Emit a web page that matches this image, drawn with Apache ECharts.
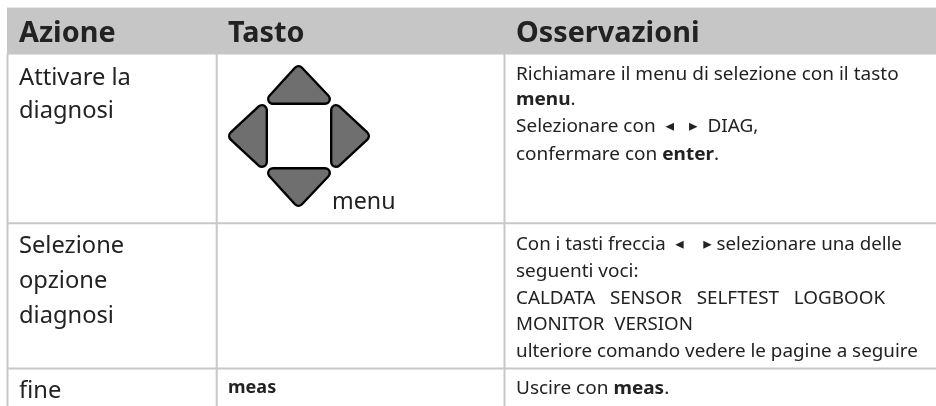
<!DOCTYPE html>
<html><head><meta charset="utf-8">
<style>html,body{margin:0;padding:0;background:#fff}#c{width:936px;height:406px}</style>
<script src="https://cdn.jsdelivr.net/npm/echarts@6/dist/echarts.min.js"></script>
</head><body><div id="c"></div>
<script>
// ---- content ----
const headers = ['Azione', 'Tasto', 'Osservazioni'];
const actionLines = ['Attivare la', 'diagnosi', 'Selezione', 'opzione', 'diagnosi', 'fine'];
const keyLabels = ['menu', 'meas'];
const noteLines = [
  'Richiamare il menu di selezione con il tasto',
  '{b|menu}.',
  'Selezionare con  {a|\u25C2}   {a|\u25B8}  DIAG,',
  'confermare con {b|enter}.',
  'Con i tasti freccia  {a|\u25C2}    {a|\u25B8} selezionare una delle',
  'seguenti voci:',
  'CALDATA   SENSOR   SELFTEST   LOGBOOK',
  'MONITOR  VERSION',
  'ulteriore comando vedere le pagine a seguire',
  'Uscire con {b|meas}.'
];
// ---- layout ----
const W = 936, H = 406;
const FONT = '"Noto Sans"';
const INK = '#222221', RULE = '#c8c8c8', HEAD = '#c6c6c6';
const colX = [7.5, 216.7, 504.5];
const rowY = [223.3, 368.5];
const textX = [19, 228, 516];
const headerBase = 43.7;
const actionBase = [87, 120, 255, 290, 325, 400];
const keyPos = [[332, 211], [228, 394.5]];
const noteBase = [81, 106, 133, 161, 251, 278, 305, 331, 358, 395];
const noteScale = [1.055, 1.055, 1.055, 1.055, 1.04, 1.055, 1.048, 1.04, 1.047, 1.055];
const keyTriangles = [
  [[298.5, 71], [273, 99], [325, 99]],
  [[298.5, 201], [273, 173], [325, 173]],
  [[234, 136], [262, 110], [262, 162]],
  [[364, 136], [336, 110], [336, 162]]
];
const CORNER = 6, BORDER = 2.4;

const marks = [];
marks.push({k: 'rect', x0: colX[0] - 0.5, y0: 8, x1: W, y1: 54.5, fill: HEAD});
marks.push({k: 'rect', x0: colX[0] - 0.5, y0: 7, x1: W, y1: 8, fill: '#e6e6e6'});
colX.forEach(x => marks.push({k: 'rect', x0: x - 1, y0: 54, x1: x + 1, y1: H, fill: RULE}));
rowY.forEach(y => marks.push({k: 'rect', x0: colX[0], y0: y - 1, x1: W, y1: y + 1, fill: RULE}));
keyTriangles.forEach(t => {
  marks.push({k: 'tri', pts: t, w: CORNER * 2, c: '#000'});
  marks.push({k: 'tri', pts: t, w: CORNER * 2 - BORDER * 2, c: '#6f6f6f'});
});
headers.forEach((s, i) => marks.push({k: 'text', s, x: textX[i], b: headerBase, size: 28.5, weight: 700, sx: 1.01}));
actionLines.forEach((s, i) => marks.push({k: 'text', s, x: textX[0], b: actionBase[i], size: 23, sx: 1.03}));
keyLabels.forEach((s, i) => marks.push({k: 'text', s, x: keyPos[i][0], b: keyPos[i][1], size: i ? 17.5 : 23, weight: i ? 700 : 400, sx: i ? 1.03 : 1.01}));
noteLines.forEach((s, i) => marks.push({k: 'text', s, x: textX[2], b: noteBase[i], size: 18, sx: noteScale[i]}));

function renderMark(params, api) {
  const m = marks[params.dataIndex];
  if (m.k === 'rect') {
    const a = api.coord([m.x0, m.y0]), b = api.coord([m.x1, m.y1]);
    return {type: 'rect', shape: {x: a[0], y: a[1], width: b[0] - a[0], height: b[1] - a[1]},
            style: {fill: m.fill}};
  }
  if (m.k === 'tri') {
    return {type: 'polygon', shape: {points: m.pts.map(p => api.coord(p))},
            style: {fill: m.c, stroke: m.c, lineWidth: m.w, lineJoin: 'round'}};
  }
  const p = api.coord([m.x, m.b]);
  const w = m.weight || 400;
  return {type: 'text', x: p[0], y: p[1] - m.size * 0.36, scaleX: m.sx,
    style: {x: 0, y: 0, text: m.s, fill: INK, fontFamily: FONT, fontSize: m.size, fontWeight: w,
      align: 'left', verticalAlign: 'middle',
      rich: {
        b: {fontFamily: FONT, fontSize: m.size, fontWeight: 700, fill: INK},
        a: {fontFamily: '"DejaVu Sans"', fontSize: m.size * 0.9, fill: INK}
      }}};
}

const chart = echarts.init(document.getElementById('c'), null, {renderer: 'canvas'});
chart.setOption({
  animation: false,
  backgroundColor: '#fff',
  grid: {left: 0, right: 0, top: 0, bottom: 0},
  xAxis: {type: 'value', min: 0, max: W, show: false},
  yAxis: {type: 'value', min: 0, max: H, inverse: true, show: false},
  tooltip: {show: false},
  series: [{type: 'custom', coordinateSystem: 'cartesian2d', silent: true, clip: false,
    renderItem: renderMark, data: marks.map((m, i) => [i])}]
});
</script></body></html>
